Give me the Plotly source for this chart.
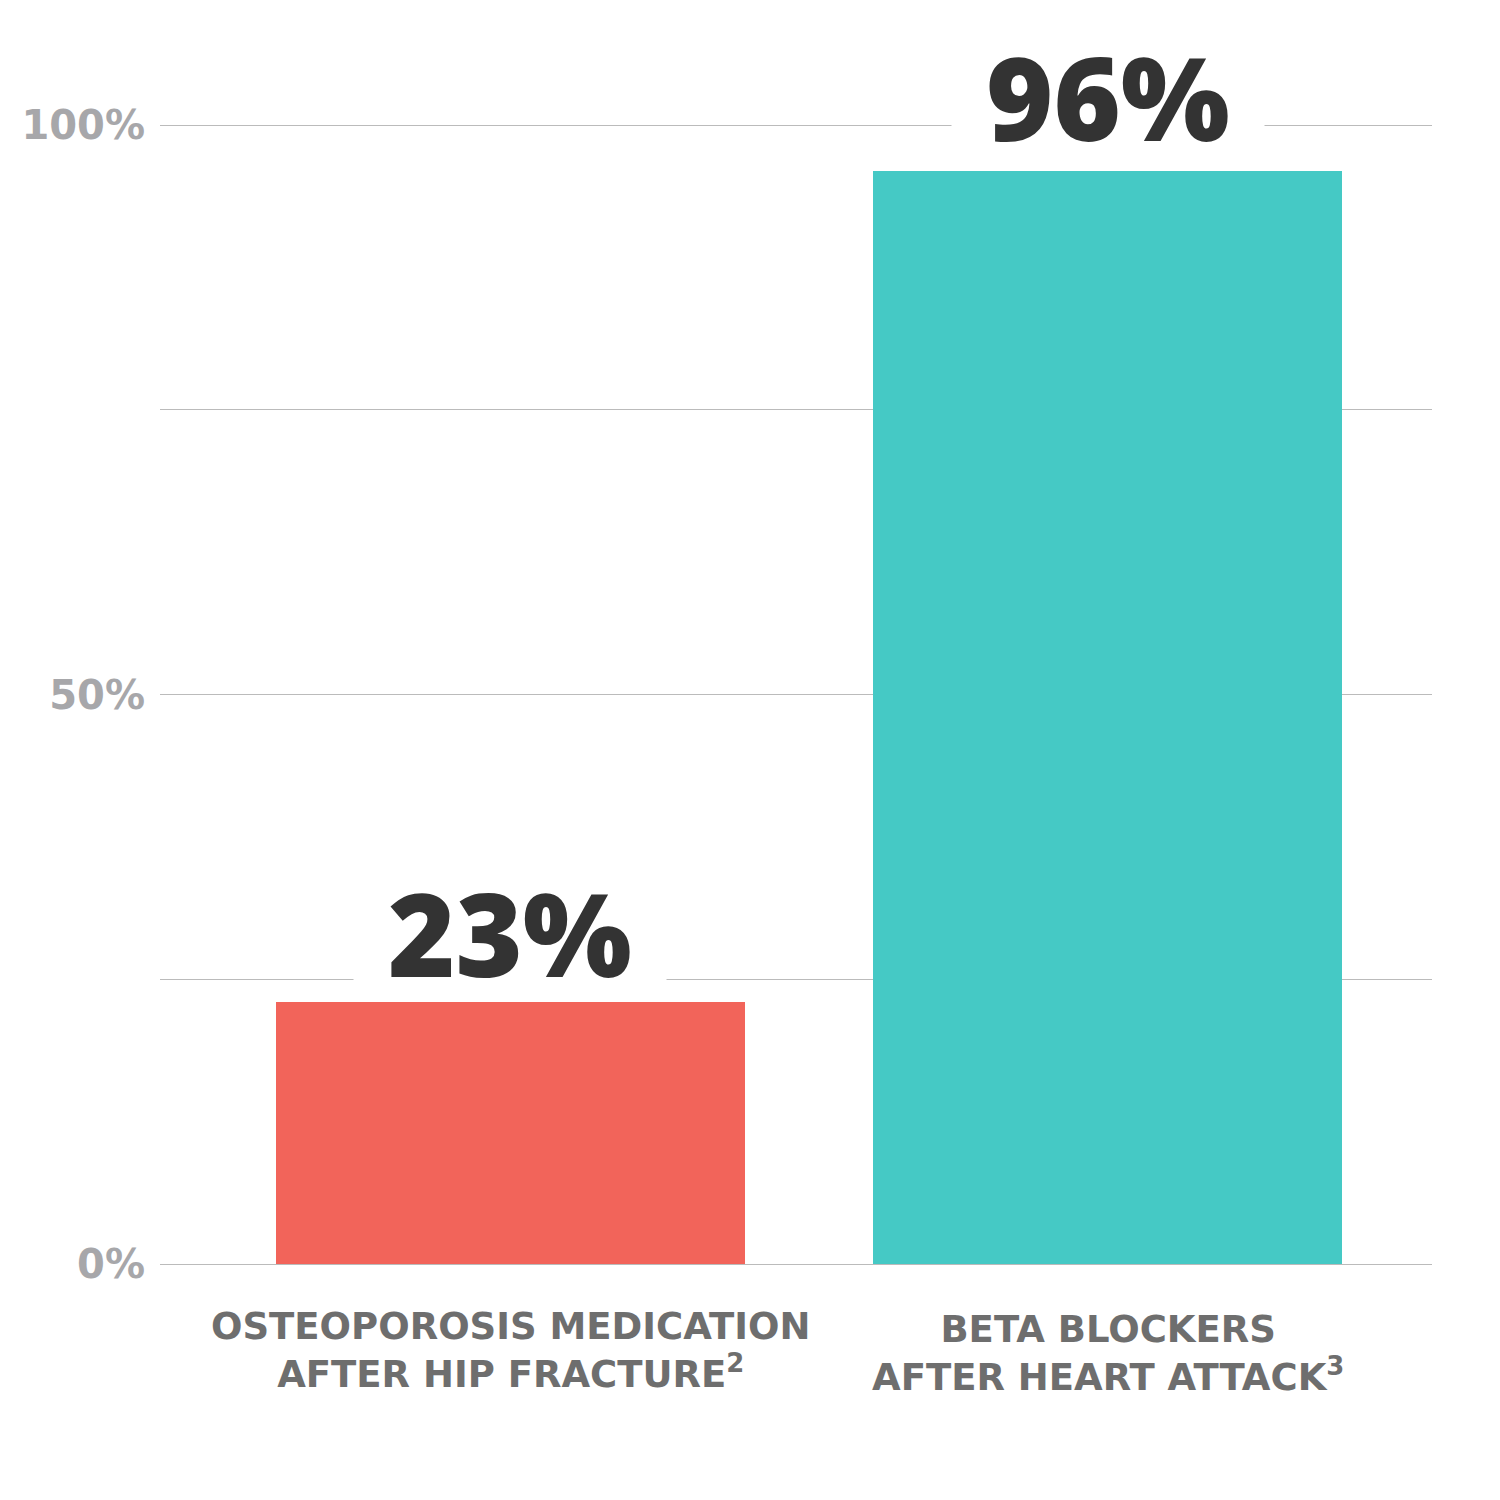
import plotly.graph_objects as go

categories = ["OSTEOPOROSIS MEDICATION<br>AFTER HIP FRACTURE<sup>2</sup>",
              "BETA BLOCKERS<br>AFTER HEART ATTACK<sup>3</sup>"]
values = [23, 96]
value_labels = ["23%", "96%"]
bar_colors = ["#F2645A", "#45C9C5"]
tick_vals = [0, 25, 50, 75, 100]
tick_text = ["0%", "", "50%", "", "100%"]

FONT = "Open Sans"
CAT_FONT = "DejaVu Sans"
xs = [0, 1]

fig = go.Figure()
fig.add_trace(go.Bar(
    x=xs, y=values, marker_color=bar_colors, marker_line_width=0,
    width=0.786, hoverinfo="skip",
))

annotations = []
label_shift = [-11, -6]
cat_shift = [-39, -42]
for i, (x, v, t) in enumerate(zip(xs, values, value_labels)):
    grid_above = min(g for g in tick_vals if g >= v)
    # white mask to break the gridline behind the value label
    annotations.append(dict(
        x=x, y=grid_above, xref="x", yref="y", text=" ", showarrow=False,
        width=312, height=6, bgcolor="white", borderpad=0,
        xanchor="center", yanchor="middle", font=dict(size=4),
    ))
    annotations.append(dict(
        x=x, y=v, xref="x", yref="y", text=t, showarrow=False,
        xanchor="center", yanchor="bottom", yshift=label_shift[i],
        font=dict(family=FONT, size=115, color="#333333", weight=800),
    ))
    annotations.append(dict(
        x=x, y=0, xref="x", yref="y", text=categories[i], showarrow=False,
        xanchor="center", yanchor="top", yshift=cat_shift[i],
        font=dict(family=CAT_FONT, size=37, color="#6E6E6E", weight=700),
        align="center",
    ))

fig.update_layout(
    width=1500, height=1500,
    margin=dict(l=152, r=76, t=116, b=244),
    plot_bgcolor="white", paper_bgcolor="white",
    showlegend=False,
    annotations=annotations,
    xaxis=dict(range=[-0.587, 1.5435], showticklabels=False, showgrid=False,
               zeroline=False, showline=False, fixedrange=True),
    yaxis=dict(range=[0, 100.1], tickvals=tick_vals, ticktext=tick_text,
               showgrid=True, gridcolor="#BBBBBB", gridwidth=1.3,
               zeroline=True, zerolinecolor="#BBBBBB", zerolinewidth=1.3,
               showline=False, ticks="", ticklabelstandoff=14,
               tickfont=dict(family=CAT_FONT, size=40, color="#A7A7AA", weight=700)),
    bargap=0,
)

fig.write_html("out.html")
